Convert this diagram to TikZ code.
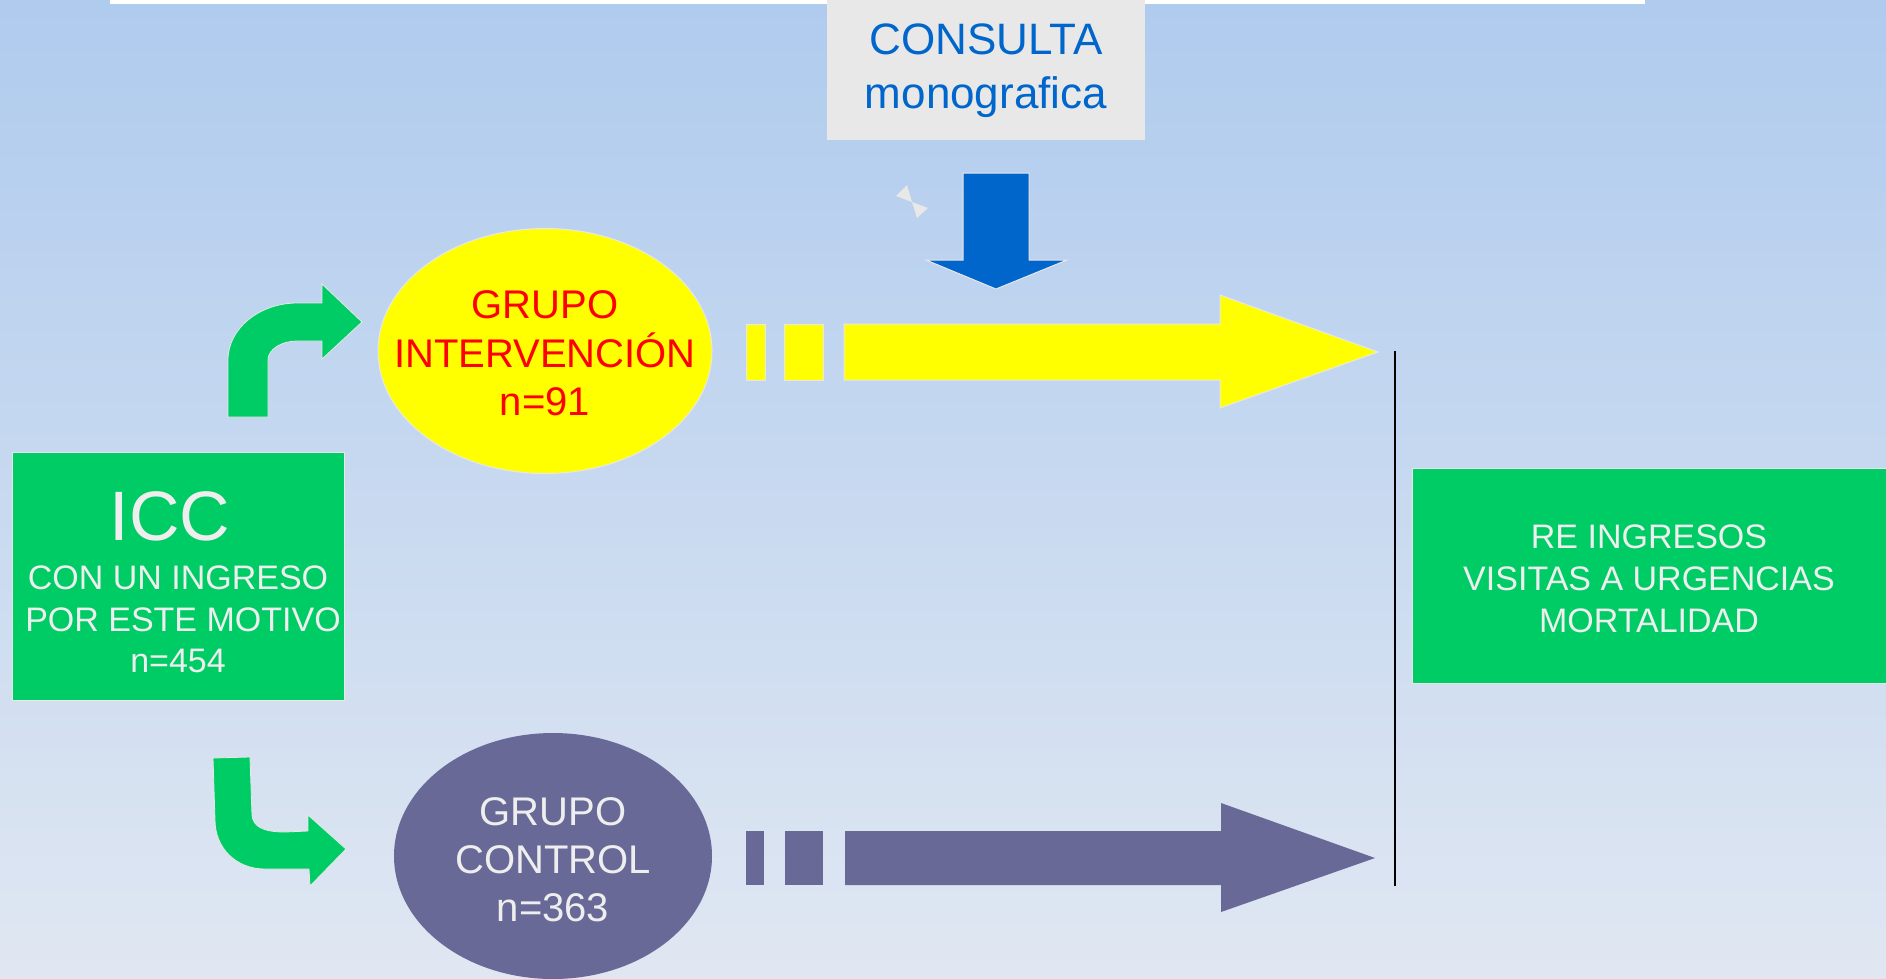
\documentclass[tikz,border=0pt]{standalone}
\usepackage{fontspec}
\setmainfont{Liberation Sans}
\usetikzlibrary{shapes.geometric}
\definecolor{bgtop}{RGB}{175,203,238}
\definecolor{bgbot}{RGB}{224,231,242}
\definecolor{grn}{RGB}{0,204,102}
\definecolor{yel}{RGB}{255,255,0}
\definecolor{rd}{RGB}{255,0,0}
\definecolor{prp}{RGB}{105,105,152}
\definecolor{blu}{RGB}{0,102,204}
\definecolor{lgrey}{RGB}{232,232,232}
\definecolor{tgrey}{RGB}{238,238,238}
\begin{document}
\begin{tikzpicture}[x=1pt,y=-1pt,
  lbl/.style={anchor=base, inner sep=0pt},
  big/.style={font=\fontsize{70}{84}\selectfont},
  mid/.style={font=\fontsize{34}{41}\selectfont},
  ell/.style={font=\fontsize{40}{48}\selectfont},
  cons/.style={font=\fontsize{44}{53}\selectfont},
  greenbox/.style={fill=grn, draw=lgrey, line width=0.8pt, inner sep=0pt},
  oval/.style={ellipse, inner sep=0pt},
  yarrow/.style={fill=yel, draw=lgrey, line width=1pt},
  parrow/.style={fill=prp},
  barrow/.style={fill=blu, draw=lgrey, line width=1pt},
  garrow/.style={fill=grn, draw=lgrey, line width=0.8pt}]
\useasboundingbox (0,0) rectangle (1886,978);
\shade[top color=bgtop, bottom color=bgbot] (0,0) rectangle (1886,978);
% top white bar
\fill[white] (110,0) rectangle (1645,4);
% consulta box
\node[fill=lgrey, inner sep=0pt, minimum width=318pt, minimum height=140pt] (cons) at (985.5,70) {};
\node[lbl, cons, text=blu] (c1) at (986,54) {CONSULTA};
\node[lbl, cons, text=blu] (c2) at (986,108) {monografica};
% blue down arrow
\draw[barrow] (963,173) -- (1029,173) -- (1029,260) -- (1067,260) -- (996,289) -- (926,260) -- (963,260) -- cycle;
% sparkle
\fill[lgrey] (896,196) -- (907,185) -- (912,202) -- cycle;
\fill[lgrey] (912,202) -- (928,208) -- (917,218) -- cycle;
% ICC box
\node[greenbox, minimum width=332pt, minimum height=248pt] (icc) at (178,576) {};
\node[lbl, big, text=tgrey] (icc1) at (170,540) {ICC};
\node[lbl, mid, text=tgrey] (icc2) at (178,589) {CON UN INGRESO};
\node[lbl, mid, text=tgrey] (icc3) at (183,631) {POR ESTE MOTIVO};
\node[lbl, mid, text=tgrey] (icc4) at (178,672) {n=454};
% right box
\node[greenbox, minimum width=474pt, minimum height=215pt] (res) at (1649,576) {};
\node[lbl, mid, text=tgrey] (r1) at (1649,548) {RE INGRESOS};
\node[lbl, mid, text=tgrey] (r2) at (1649,590) {VISITAS A URGENCIAS};
\node[lbl, mid, text=tgrey] (r3) at (1649,632) {MORTALIDAD};
% yellow ellipse
\node[oval, fill=yel, draw=lgrey, line width=1pt, minimum width=334pt, minimum height=245pt] (gi) at (545,351) {};
\node[lbl, ell, text=rd] (gi1) at (545,318) {GRUPO};
\node[lbl, ell, text=rd] (gi2) at (545,367) {INTERVENCIÓN};
\node[lbl, ell, text=rd] (gi3) at (545,415) {n=91};
% purple ellipse
\node[oval, fill=prp, minimum width=318pt, minimum height=246pt] (gc) at (553,856) {};
\node[lbl, ell, text=tgrey] (gc1) at (553,825) {GRUPO};
\node[lbl, ell, text=tgrey] (gc2) at (553,873) {CONTROL};
\node[lbl, ell, text=tgrey] (gc3) at (553,921) {n=363};
% green bent arrows
\draw[garrow] (228,417) -- (228,360) .. controls (228,328) and (260,303) .. (297,303) -- (322,303) -- (322,284) -- (362,322) -- (322,359) -- (322,341) -- (297,341) .. controls (282,341) and (268,349) .. (268,360) -- (268,417) -- cycle;
\draw[garrow] (213,758) -- (250,757) -- (252,815) .. controls (253,826) and (262,832) .. (285,832) -- (308,831) -- (308,815) -- (346,849) -- (310,886) -- (309,869) -- (265,869) .. controls (236,869) and (215,848) .. (215,820) -- cycle;
% yellow striped arrow
\draw[yarrow] (746,324) rectangle (765,380);
\draw[yarrow] (784,324) rectangle (823,380);
\draw[yarrow] (844,324) -- (1220,324) -- (1220,295) -- (1378,352) -- (1220,408) -- (1220,380) -- (844,380) -- cycle;
% purple striped arrow
\fill[parrow] (746,831) rectangle (764,885);
\fill[parrow] (785,831) rectangle (823,885);
\fill[parrow] (845,831) -- (1221,831) -- (1221,803) -- (1375,858) -- (1221,912) -- (1221,885) -- (845,885) -- cycle;
% vertical line
\coordinate (lt) at (1395,351);
\coordinate (lb) at (1395,886);
\draw[black, line width=1.8pt] (lt) -- (lb);
\end{tikzpicture}
\end{document}
